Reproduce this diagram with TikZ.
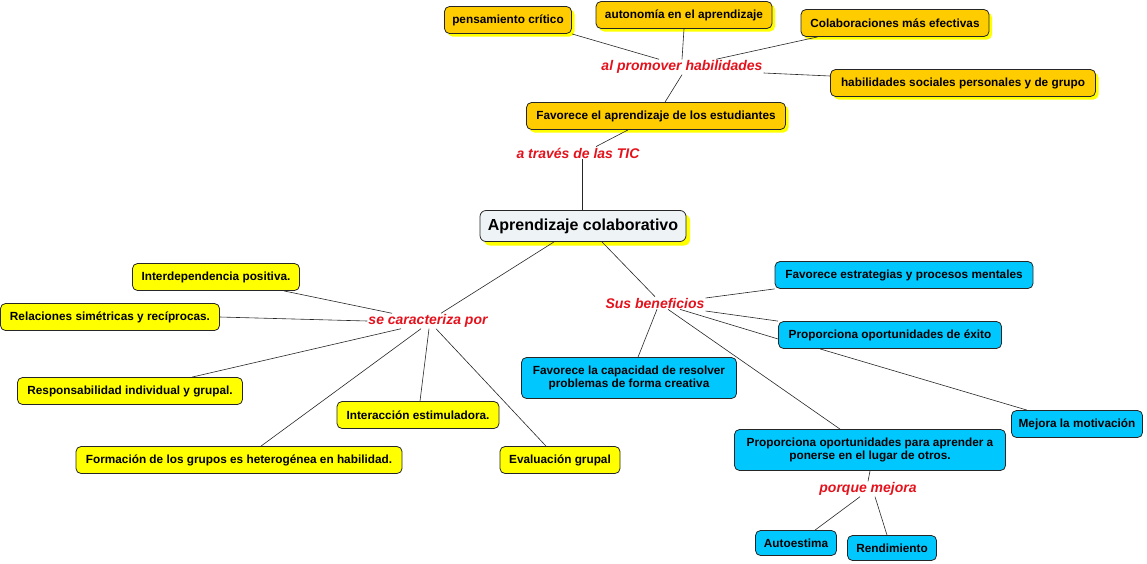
\documentclass[tikz,border=0pt]{standalone}
\usepackage{fontspec}
\setmainfont{Liberation Sans}
\usetikzlibrary{shadows}
\definecolor{goldfill}{RGB}{255,204,0}
\definecolor{yelfill}{RGB}{255,255,0}
\definecolor{bluefill}{RGB}{0,200,255}
\definecolor{cenfill}{RGB}{238,243,245}
\definecolor{shadowyel}{RGB}{255,255,0}
\definecolor{lblred}{RGB}{228,18,28}
\tikzset{
  box/.style={draw=black!85, line width=0.8pt, rounded corners=5pt,
    font=\bfseries\fontsize{11.8}{13.5}\selectfont, inner xsep=4pt, inner ysep=2pt,
    minimum height=27pt, align=center},
  goldbox/.style={box, fill=goldfill,
    drop shadow={shadow xshift=3pt, shadow yshift=-3pt, fill=shadowyel, opacity=1}},
  yelbox/.style={box, fill=yelfill},
  bluebox/.style={box, fill=bluefill},
  cenbox/.style={box, fill=cenfill, font=\bfseries\fontsize{16}{18}\selectfont,
    minimum height=31pt, rounded corners=6pt,
    drop shadow={shadow xshift=4pt, shadow yshift=-4pt, fill=shadowyel, opacity=1}},
  lbl/.style={text=lblred, font=\bfseries\itshape\fontsize{14}{16}\selectfont, inner sep=1pt},
  conn/.style={draw=black!85, line width=0.6pt}
}
\begin{document}
\begin{tikzpicture}[x=1pt,y=-1pt]
\useasboundingbox (0,0) rectangle (1147,563);
% top group
\node[goldbox, minimum width=127pt] (pc) at (508,20) {pensamiento crítico};
\node[goldbox, minimum width=176pt] (aut) at (684,15) {autonomía en el aprendizaje};
\node[goldbox, minimum width=188pt] (col) at (895,23) {Colaboraciones más efectivas};
\node[goldbox, minimum width=265pt] (hab) at (963,83) {habilidades sociales personales y de grupo};
\node[lbl] (prom) at (682,67) {al promover habilidades};
\node[goldbox, minimum width=259pt] (fav) at (656,116) {Favorece el aprendizaje de los estudiantes};
\node[lbl] (tic) at (578,153) {a través de las TIC};
\node[cenbox, minimum width=206pt] (cen) at (583,226) {Aprendizaje colaborativo};
% left group
\node[lbl] (car) at (428,321) {se caracteriza por};
\node[yelbox, minimum width=167pt] (idp) at (216,277) {Interdependencia positiva.};
\node[yelbox, minimum width=219pt] (rel) at (110,317) {Relaciones simétricas y recíprocas.};
\node[yelbox, minimum width=225pt] (resp) at (130,391) {Responsabilidad individual y grupal.};
\node[yelbox, minimum width=162pt] (inter) at (418,415) {Interacción estimuladora.};
\node[yelbox, minimum width=326pt] (form) at (239,460) {Formación de los grupos es heterogénea en habilidad.};
\node[yelbox, minimum width=120pt] (eval) at (560,460) {Evaluación grupal};
% right group
\node[lbl] (ben) at (655,303) {Sus beneficios};
\node[bluebox, minimum width=258pt] (fe) at (904,275) {Favorece estrategias y procesos mentales};
\node[bluebox, minimum width=223pt] (exi) at (890,335) {Proporciona oportunidades de éxito};
\node[bluebox, minimum width=215pt, minimum height=41pt] (cap) at (629,378) {Favorece la capacidad de resolver\\problemas de forma creativa};
\node[bluebox, minimum width=131pt] (mot) at (1077,424) {Mejora la motivación};
\node[bluebox, minimum width=271pt, minimum height=41pt] (opo) at (870,450) {Proporciona oportunidades para aprender a\\ponerse en el lugar de otros.};
\node[lbl] (pm) at (868,489) {porque mejora};
\node[bluebox, minimum width=81pt, minimum height=25pt] (ae) at (796,543) {Autoestima};
\node[bluebox, minimum width=89pt, minimum height=25pt] (ren) at (892,548) {Rendimiento};
% connectors top
\draw[conn] (pc.south east) -- ([xshift=-23pt]prom.north);
\draw[conn] (aut.south) -- (prom.north);
\draw[conn] ([xshift=17pt]col.south west) -- ([xshift=34pt]prom.north);
\draw[conn] ([yshift=-6pt]prom.east) -- ([yshift=7pt]hab.west);
\draw[conn] (prom.south) -- ([xshift=9pt]fav.north);
\draw[conn] ([xshift=-28pt]fav.south) -- ([xshift=18pt]tic.north);
\draw[conn] ([xshift=4pt]tic.south) -- ([xshift=-1pt]cen.north);
% connectors left
\draw[conn] ([xshift=-29pt]cen.south) -- ([xshift=13pt]car.north);
\draw[conn] ([xshift=-16pt]idp.south east) -- ([xshift=-36pt]car.north);
\draw[conn] (rel.east) -- (car.west);
\draw[conn] ([xshift=62pt]resp.north) -- ([xshift=-27pt]car.south);
\draw[conn] ([xshift=22pt]form.north) -- ([xshift=-7pt]car.south);
\draw[conn] ([xshift=2pt]inter.north) -- ([xshift=1pt]car.south);
\draw[conn] ([xshift=-14pt]eval.north) -- ([xshift=8pt]car.south);
% connectors right
\draw[conn] ([xshift=19pt]cen.south) -- (ben.north);
\draw[conn] ([yshift=5pt]ben.east) -- (fe.south west);
\draw[conn] ([yshift=-8pt]ben.east) -- (exi.north west);
\draw[conn] ([xshift=25pt]ben.south) -- ([yshift=-4pt]exi.west);
\draw[conn] ([xshift=2pt]ben.south) -- ([xshift=9pt]cap.north);
\draw[conn] ([xshift=13pt]ben.south) -- ([xshift=-30pt]opo.north);
\draw[conn] ([xshift=-70pt]exi.south) -- ([xshift=-50pt]mot.north);
\draw[conn] (opo.south) -- (pm.north);
\draw[conn] ([xshift=-8pt]pm.south) -- ([xshift=19pt]ae.north);
\draw[conn] ([xshift=7pt]pm.south) -- ([xshift=-5pt]ren.north);
\end{tikzpicture}
\end{document}
